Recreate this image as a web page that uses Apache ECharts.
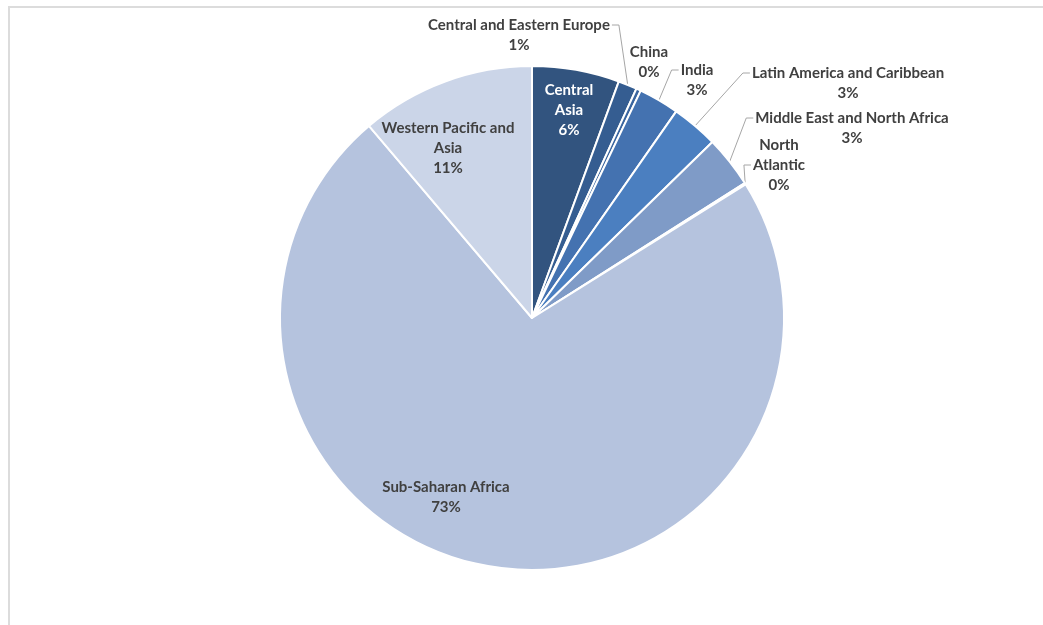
<!DOCTYPE html>
<html>
<head>
<meta charset="utf-8">
<script src="https://cdn.jsdelivr.net/npm/echarts@6/dist/echarts.min.js"></script>
<style>
  html, body { margin: 0; padding: 0; background: #fff; }
  #main { width: 1043px; height: 625px; }
</style>
</head>
<body>
<div id="main"></div>
<script>
// regions, clockwise from 12 o'clock
var regions = ['Central Asia', 'Central and Eastern Europe', 'China', 'India',
  'Latin America and Caribbean', 'Middle East and North Africa', 'North Atlantic',
  'Sub-Saharan Africa', 'Western Pacific and Asia'];
// share of total, percent
var shares = [5.6, 1.2, 0.3, 2.6, 3.0, 3.3, 0.1, 72.7, 11.2];
var colors = ['#32547f', '#355d91', '#3a659f', '#4472b0', '#4b7fc0',
  '#7f9bc7', '#98aed4', '#b5c3de', '#cbd5e8'];

// how the label text wraps
var wrap = {
  'Central Asia': 'Central\nAsia',
  'Western Pacific and Asia': 'Western Pacific and\nAsia',
  'North Atlantic': 'North\nAtlantic'
};

// label placement: centre x, centre y, side the leader attaches to, line index of the tick
var spots = {
  'Central Asia': [569, 110, null],
  'Central and Eastern Europe': [519, 35, 'right', 0],
  'China': [649, 62, null],
  'India': [697, 80, 'left', 0],
  'Latin America and Caribbean': [848, 83, 'left', 0],
  'Middle East and North Africa': [852, 128, 'left', 0],
  'North Atlantic': [779, 165, 'left', 1],
  'Sub-Saharan Africa': [446, 497, null],
  'Western Pacific and Asia': [448, 148, null]
};

var myChart = echarts.init(document.getElementById('main'));
var lh = 20;

var data = regions.map(function (name, i) {
  var s = spots[name];
  return {
    name: name,
    value: shares[i],
    itemStyle: { color: colors[i] },
    label: { color: name === 'Central Asia' ? '#ffffff' : '#404040' },
    labelLine: { show: !!s[2] }
  };
});

var option = {
  backgroundColor: '#ffffff',
  animation: false,
  graphic: [{
    type: 'polyline',
    shape: { points: [[9, 625], [9, 7], [1043, 7]] },
    style: { stroke: '#dcdcdc', lineWidth: 2, fill: null }
  }],
  series: [{
    type: 'pie',
    center: [532, 318],
    radius: 252,
    startAngle: 90,
    clockwise: true,
    avoidLabelOverlap: false,
    itemStyle: { borderColor: '#ffffff', borderWidth: 2 },
    label: {
      show: true,
      position: 'outside',
      fontFamily: 'Lato',
      fontWeight: 'bold',
      fontSize: 15,
      lineHeight: lh,
      align: 'center',
      formatter: function (p) {
        return (wrap[p.name] || p.name) + '\n' + Math.round(p.percent) + '%';
      }
    },
    labelLine: {
      lineStyle: { color: '#a6a6a6', width: 1 }
    },
    labelLayout: function (p) {
      var s = spots[regions[p.dataIndex]];
      var w = p.labelRect.width;
      var h = p.labelRect.height;
      var res = { x: s[0], y: s[1], align: 'center', verticalAlign: 'middle' };
      if (s[2] && p.labelLinePoints) {
        var ty = s[1] - h / 2 + lh * s[3] + lh / 2;
        var p0 = p.labelLinePoints[0];
        var edge, elbow;
        if (s[2] === 'left') {
          edge = s[0] - w / 2 - 2;
          elbow = edge - 7;
        } else {
          edge = s[0] + w / 2 + 2;
          elbow = edge + 7;
        }
        res.labelLinePoints = [p0, [elbow, ty], [edge, ty]];
      }
      return res;
    },
    data: data
  }]
};

myChart.setOption(option);
</script>
</body>
</html>
